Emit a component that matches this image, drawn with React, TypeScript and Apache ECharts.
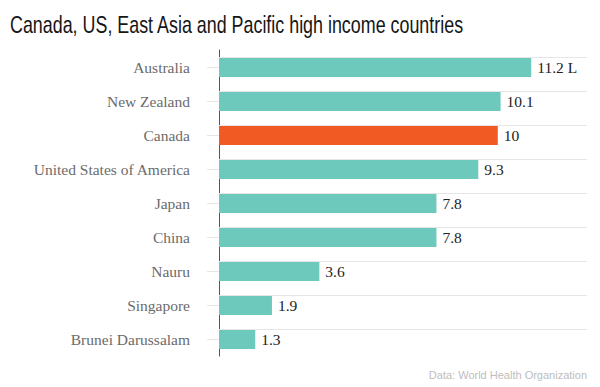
import React, { useEffect, useRef } from "react";
import * as echarts from "echarts";

const categories = [
  "Australia",
  "New Zealand",
  "Canada",
  "United States of America",
  "Japan",
  "China",
  "Nauru",
  "Singapore",
  "Brunei Darussalam",
];
const values = [11.2, 10.1, 10, 9.3, 7.8, 7.8, 3.6, 1.9, 1.3];
const labelSuffixes = [" L", "", "", "", "", "", "", "", ""];
const highlight = "Canada";

const TEAL = "#6dc9bb";
const ORANGE = "#f15a22";
const SERIF = "'Liberation Serif', 'DejaVu Serif', serif";

export default function App() {
  const ref = useRef<HTMLDivElement>(null);
  useEffect(() => {
    if (!ref.current) return;
    const chart = echarts.init(ref.current, null, { renderer: "svg" });
    chart.setOption({
      animation: false,
      graphic: [
        {
          type: "text",
          x: 10,
          y: 12,
          scaleX: 0.745,
          style: {
            text: "Canada, US, East Asia and Pacific high income countries",
            fill: "#161616",
            font: "24px 'Liberation Sans', Arial, sans-serif",
            textAlign: "left",
            textVerticalAlign: "top",
          },
        },
        {
          type: "text",
          right: 13,
          top: 369,
          style: {
            text: "Data: World Health Organization",
            fill: "#bdbdbd",
            font: "11px 'Liberation Sans', Arial, sans-serif",
          },
        },
      ],
      grid: { left: 219, right: 13, top: 50, bottom: 31, containLabel: false },
      xAxis: {
        type: "value",
        min: 0,
        max: 13.2,
        show: false,
        splitLine: { show: false },
      },
      yAxis: {
        type: "category",
        data: categories,
        inverse: true,
        axisLine: { show: true, lineStyle: { color: "#555", width: 1 } },
        axisTick: { show: true, alignWithLabel: true, length: 12, lineStyle: { color: "#e6e6e6" } },
        axisLabel: {
          margin: 29,
          fontFamily: SERIF,
          fontSize: 15.5,
          color: "#6b6b6b",
        },
        splitLine: { show: false },
      },
      series: [
        {
          type: "bar",
          z: 1,
          data: [],
          silent: true,
          markLine: {
            silent: true,
            symbol: "none",
            label: { show: false },
            lineStyle: { color: "#e6e6e6", type: "solid", width: 1 },
            data: categories.map((c) => ({ yAxis: c })),
          },
        },
        {
          type: "bar",
          z: 3,
          barWidth: 20,
          data: values.map((v, i) => ({
            value: v,
            itemStyle: { color: categories[i] === highlight ? ORANGE : TEAL },
          })),
          label: {
            show: true,
            position: "right",
            distance: 5,
            fontFamily: SERIF,
            fontSize: 15.5,
            color: "#222",
            backgroundColor: "#fff",
            padding: [2, 10, 2, 1],
            formatter: (p: any) => `${p.value}${labelSuffixes[p.dataIndex]}`,
          },
        },
      ],
    });
    return () => chart.dispose();
  }, []);
  return <div ref={ref} style={{ width: 600, height: 387, position: "absolute", left: 0, top: 0 }} />;
}
